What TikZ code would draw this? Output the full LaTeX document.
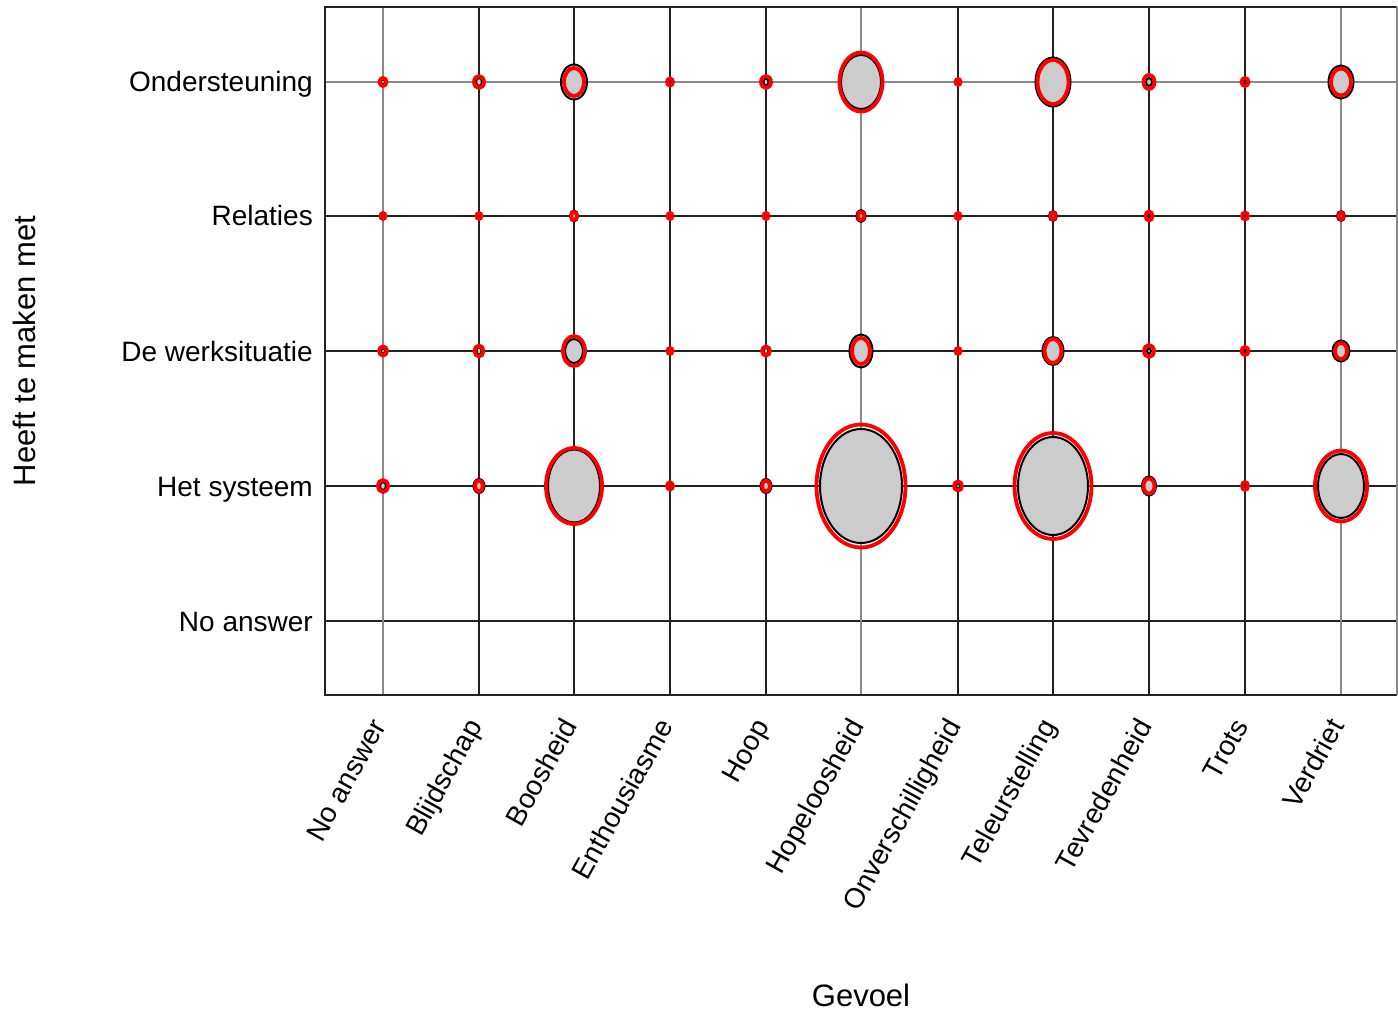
\documentclass[tikz,border=0pt]{standalone}
\usepackage{fontspec}
\setmainfont{Liberation Sans}
\definecolor{gridd}{HTML}{222222}
\definecolor{gridl}{HTML}{8A8A8A}
\definecolor{bubfill}{HTML}{CCCCCC}
\begin{document}
\begin{tikzpicture}[x=1pt,y=-1pt,
  darkline/.style={draw=gridd,line width=1.6pt},
  lightline/.style={draw=gridl,line width=1.2pt},
  blackell/.style={draw=black,fill=bubfill,line width=2pt},
  redell/.style={draw=red,line width=3.8pt},
  ticklab/.style={inner sep=0pt,font=\fontsize{28}{32}\selectfont,text=black},
  axlab/.style={inner sep=0pt,font=\fontsize{31}{36}\selectfont,text=black}]
\useasboundingbox (0,0) rectangle (1398,1011);
% grid lines
\foreach \yy in {216,351,486,621} \draw[darkline] (325,\yy) -- (1397,\yy);
\draw[lightline] (325,82) -- (1397,82);
\foreach \xx in {479,574,670,766,958,1053,1149,1245} \draw[darkline] (\xx,7) -- (\xx,695);
\foreach \xx in {383,861,1341} \draw[lightline] (\xx,7) -- (\xx,695);
% frame
\draw[darkline] (1397,7) -- (325,7) -- (325,695) -- (1397,695);
\draw[lightline] (1397,7) -- (1397,695);
% bubbles: x/y/black rx/black ry/red rx/red ry
\foreach \px/\py/\bx/\by/\rx/\ry in {
 383/82/2/2.5/3.5/4, 479/82/3/4/5/6, 574/82/13/17.5/10/14, 670/82/1/1/3/3.5,
 766/82/2.5/3.5/5/6, 861/82/20/27/21.5/29.5, 958/82/1/1/2.5/3, 1053/82/17.5/24.5/15.5/22,
 1149/82/3/4/5.5/7, 1245/82/1.5/2/3.5/4, 1341/82/12.5/16.5/10/13.5,
 383/216/1/1/2.5/3, 479/216/1/1/2.5/3, 574/216/4/5.5/3/4, 670/216/1/1/2.5/3,
 766/216/1/1/2.5/3, 861/216/4.5/6/3/4, 958/216/1/1/2.5/3, 1053/216/4/5/2.5/3.5,
 1149/216/1.5/2/3.5/4.5, 1245/216/1/1/3/3.5, 1341/216/4/5/2.5/3.5,
 383/351/2/2.5/4/4.5, 479/351/2.5/3.5/4.5/5.5, 574/351/9/12/11/15, 670/351/1/1/2.5/3,
 766/351/2.5/3/4/4.5, 861/351/11.5/16.5/9/13, 958/351/1/1/2.5/3, 1053/351/10.5/14/8.5/12,
 1149/351/2/2.5/5/6, 1245/351/1/1/3.5/4, 1341/351/8.5/10.5/6/8,
 383/486/3/4/5/6, 479/486/5.5/7/4/5.5, 574/486/26/36.5/28/38, 670/486/1.5/2/3/3.5,
 766/486/5.5/7/4/5.5, 861/486/41/57/44.5/61.5, 958/486/2/2.5/4/4.5, 1053/486/35/49/38.5/53,
 1149/486/7/9.5/5.5/7.5, 1245/486/1.5/2/3/4, 1341/486/23/32/26/35.5}
{
  \draw[blackell] (\px,\py) ellipse [x radius=\bx, y radius=\by];
  \draw[redell] (\px,\py) ellipse [x radius=\rx, y radius=\ry];
}
% y tick labels
\node[ticklab,anchor=base east] (yl1) at (313,92) {Ondersteuning};
\node[ticklab,anchor=base east] (yl2) at (313,226) {Relaties};
\node[ticklab,anchor=base east] (yl3) at (313,361) {De werksituatie};
\node[ticklab,anchor=base east] (yl4) at (313,496) {Het systeem};
\node[ticklab,anchor=base east] (yl5) at (313,631) {No answer};
% x tick labels
\foreach \xx/\lab/\nm in {383/No answer/xa, 479/Blijdschap/xb, 574/Boosheid/xc,
  670/Enthousiasme/xd, 766/Hoop/xe, 861/Hopeloosheid/xf, 958/Onverschilligheid/xg,
  1053/Teleurstelling/xh, 1149/Tevredenheid/xi, 1245/Trots/xj, 1341/Verdriet/xk}
  \node[ticklab,anchor=base east,rotate=61] (\nm) at (\xx+4,726) {\lab};
% axis titles
\node[axlab] (xtitle) at (861,995) {Gevoel};
\node[axlab,rotate=90] (ytitle) at (24,351) {Heeft te maken met};
\end{tikzpicture}
\end{document}
